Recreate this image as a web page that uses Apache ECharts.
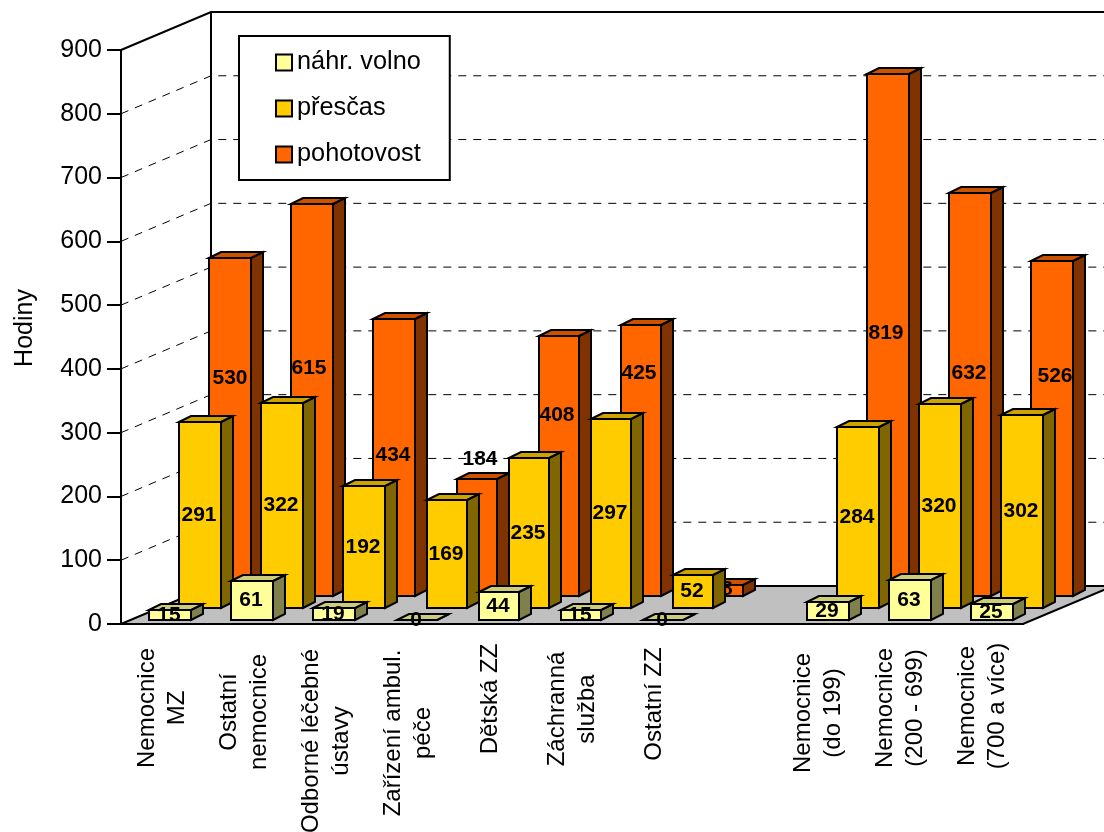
<!DOCTYPE html>
<html>
<head>
<meta charset="utf-8">
<style>html,body{margin:0;padding:0;background:#fff}#chart{width:1104px;height:832px}</style>
<script src="https://cdn.jsdelivr.net/npm/echarts@6/dist/echarts.min.js"></script>
</head>
<body>
<div id="chart"></div>
<script>
const categories = ['Nemocnice\nMZ','Ostatní\nnemocnice','Odborné léčebné\nústavy','Zařízení ambul.\npéče','Dětská ZZ','Záchranná\nslužba','Ostatní ZZ','','Nemocnice\n(do 199)','Nemocnice\n(200 - 699)','Nemocnice\n(700 a více)'];
const nahrVolno = [15,61,19,0,44,15,0,null,29,63,25];
const prescas = [291,322,192,169,235,297,52,null,284,320,302];
const pohotovost = [530,615,434,184,408,425,18,null,819,632,526];
const yTicks = [0,100,200,300,400,500,600,700,800,900];

// Pixel layout of the oblique projection and of the hand-placed labels.
const FONT = '"Liberation Sans", Arial, sans-serif';
const WALL_DX = 90, WALL_DY = 38;
const ROW_DX = 30, ROW_DY = 12;
const BAR_DX = 12, BAR_DY = 6, BAR_INSET = 28, BASE_LIFT = 4;
const barWidths = [42,42,42,40,40,40,40,42,42,42,42];
const barLeftNudge = [0,0,0,2,2,2,2,0,2,2,2];
const backLabelLift = [49,32,2,78,51,87,1,0,2,21,52];
const backLabelShift = [0,-3,-1,3,-2,-2,-2,0,-2,-1,3];
const categoryLabelDrop = [0,4,33,25,-9,1,-4,0,5,0,-2];

function shade(hex, k) {
  const n = parseInt(hex.slice(1), 16);
  const c = [n >> 16, (n >> 8) & 255, n & 255].map(v => Math.round(v * k));
  return 'rgb(' + c.join(',') + ')';
}

function barSeries(name, values, color, row) {
  return {
    name, type: 'custom', z: 3 + (2 - row),
    coordinateSystem: 'cartesian2d',
    itemStyle: { color },
    encode: { x: 0, y: 1 },
    data: values.map((v, i) => [i, v]),
    renderItem(params, api) {
      const v = api.value(1);
      const cat = api.value(0);
      if (isNaN(v)) return;
      const band = api.size([1, 0])[0];
      const top0 = api.coord([cat, v]);
      const base0 = api.coord([cat, 0]);
      const x0 = Math.round(base0[0] - band / 2 + BAR_INSET + row * ROW_DX) + barLeftNudge[cat];
      const x1 = x0 + barWidths[cat];
      const yb = Math.round(base0[1] - BASE_LIFT - row * ROW_DY);
      const yt = Math.round(top0[1] - BASE_LIFT - row * ROW_DY);
      const line = { stroke: '#000', lineWidth: 2, lineJoin: 'miter' };
      const lift = row === 2 ? backLabelLift[cat] : 0;
      const shift = row === 2 ? backLabelShift[cat] : -1;
      return {
        type: 'group',
        children: [
          { type: 'polygon', shape: { points: [[x1, yb], [x1 + BAR_DX, yb - BAR_DY], [x1 + BAR_DX, yt - BAR_DY], [x1, yt]] },
            style: Object.assign({ fill: shade(color, 0.5) }, line) },
          { type: 'polygon', shape: { points: [[x0, yt], [x0 + BAR_DX, yt - BAR_DY], [x1 + BAR_DX, yt - BAR_DY], [x1, yt]] },
            style: Object.assign({ fill: shade(color, 0.8) }, line) },
          { type: 'rect', shape: { x: x0, y: yt, width: x1 - x0, height: yb - yt },
            style: Object.assign({ fill: color }, line) },
          { type: 'text',
            style: { x: (x0 + x1) / 2 + shift, y: (yt + yb) / 2 - lift, text: String(v),
                     textAlign: 'center', textVerticalAlign: 'middle',
                     font: 'bold 21px ' + FONT, fill: '#000' } }
        ]
      };
    }
  };
}

// Side wall, back wall and floor, with the value gridlines running across them.
const frameSeries = {
  name: 'frame', type: 'custom', z: 1, silent: true,
  coordinateSystem: 'cartesian2d',
  encode: { x: 0, y: 1 },
  data: yTicks.map(t => [0, t]),
  renderItem(params, api) {
    const t = api.value(1);
    const cs = params.coordSys;
    const left = cs.x, right = cs.x + cs.width;
    const y = api.coord([0, t])[1];
    const backY = y - WALL_DY, backX = left + WALL_DX;
    const farRight = right + WALL_DX;
    if (t === yTicks[0]) {
      const wallTop = api.coord([0, yTicks[yTicks.length - 1]])[1] - WALL_DY;
      return { type: 'group', children: [
        { type: 'polygon', shape: { points: [[left, y], [backX, backY], [farRight, backY], [right, y]] },
          style: { fill: '#C0C0C0', stroke: '#000', lineWidth: 2 } },
        { type: 'line', shape: { x1: backX, y1: backY, x2: backX, y2: wallTop },
          style: { stroke: '#000', lineWidth: 2 } }
      ] };
    }
    const solid = t === yTicks[yTicks.length - 1];
    return { type: 'polyline', shape: { points: [[left, y], [backX, backY], [farRight, backY]] },
      style: { fill: null, stroke: '#000', lineWidth: solid ? 2 : 1, lineDash: solid ? null : [8, 7] } };
  }
};

const chart = echarts.init(document.getElementById('chart'), null, { renderer: 'canvas' });
chart.setOption({
  animation: false,
  backgroundColor: '#fff',
  grid: { left: 121, top: 50, width: 902, height: 574, containLabel: false, outerBoundsMode: 'none' },
  legend: {
    left: 239, top: 36, orient: 'vertical',
    backgroundColor: '#fff', borderColor: '#000', borderWidth: 2, borderRadius: 0,
    padding: [14, 29, 13, 36], itemGap: 21, itemWidth: 16, itemHeight: 16,
    selectedMode: false,
    textStyle: { fontFamily: FONT, fontSize: 25.3, color: '#000' },
    itemStyle: { borderColor: '#000', borderWidth: 2 },
    data: [
      { name: 'náhr. volno', icon: 'rect' },
      { name: 'přesčas', icon: 'rect' },
      { name: 'pohotovost', icon: 'rect' }
    ]
  },
  xAxis: {
    type: 'category', z: 6,
    data: categories.map((c, i) => ({
      value: c,
      textStyle: {
        align: 'center', verticalAlign: 'middle',
        padding: categoryLabelDrop[i] >= 0 ? [0, categoryLabelDrop[i] * 2, 0, 0] : [0, 0, 0, -categoryLabelDrop[i] * 2]
      }
    })),
    axisLine: { lineStyle: { color: '#000', width: 2 } },
    axisTick: { length: 16, lineStyle: { color: '#000', width: 2 } },
    axisLabel: {
      interval: 0, rotate: 90, align: 'center', verticalAlign: 'middle', margin: 84, hideOverlap: false,
      fontFamily: FONT, fontSize: 24, color: '#000', lineHeight: 30
    }
  },
  yAxis: {
    type: 'value', min: 0, max: 900, interval: 100, z: 6,
    name: 'Hodiny', nameLocation: 'middle', nameGap: 83, nameRotate: 90,
    nameTextStyle: { fontFamily: FONT, fontSize: 25, color: '#000', padding: [0, 0, 0, 18] },
    splitLine: { show: false },
    axisLine: { show: true, lineStyle: { color: '#000', width: 2 } },
    axisTick: { show: true, length: 14, lineStyle: { color: '#000', width: 2 } },
    axisLabel: { fontFamily: FONT, fontSize: 25, color: '#000', margin: 19 }
  },
  series: [
    frameSeries,
    barSeries('pohotovost', pohotovost, '#FF6600', 2),
    barSeries('přesčas', prescas, '#FFCC00', 1),
    barSeries('náhr. volno', nahrVolno, '#FFFF99', 0)
  ]
});
</script>
</body>
</html>
